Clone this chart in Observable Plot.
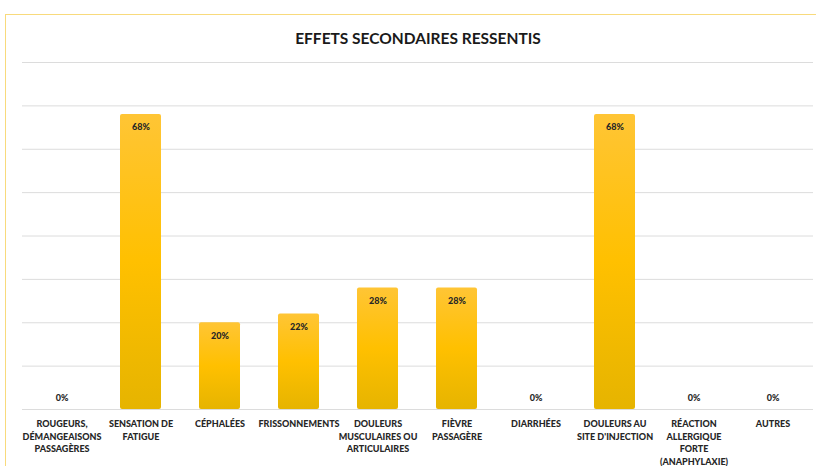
<!DOCTYPE html>
<html>
<head>
<meta charset="utf-8">
<script src="https://cdn.jsdelivr.net/npm/d3@7"></script>
<script src="https://cdn.jsdelivr.net/npm/@observablehq/plot@0.6"></script>
<style>
  html, body { margin: 0; padding: 0; background: #fff; width: 816px; height: 466px; overflow: hidden; }
  #frame { position: absolute; left: 5px; top: 14px; width: 830px; height: 470px;
           border-top: 1.5px solid #F8DA7C; border-left: 1.5px solid #F8DA7C; box-sizing: border-box; }
  #title { position: absolute; left: 0; top: 30px; width: 836px; text-align: center;
           font-family: Lato, "Open Sans", sans-serif; font-weight: 700; font-size: 15.5px; line-height: 16px; color: #1a1a1a; }
  #chart { position: absolute; left: 0; top: 50px; }
</style>
</head>
<body>
<div id="frame"></div>
<div id="title">EFFETS SECONDAIRES RESSENTIS</div>
<div id="chart"></div>
<script>
const categories = [
  "Rougeurs, démangeaisons passagères",
  "Sensation de fatigue",
  "Céphalées",
  "Frissonnements",
  "Douleurs musculaires ou articulaires",
  "Fièvre passagère",
  "Diarrhées",
  "Douleurs au site d'injection",
  "Réaction allergique forte (anaphylaxie)",
  "Autres"
];
const tickLabels = [
  "ROUGEURS,\nDÉMANGEAISONS\nPASSAGÈRES",
  "SENSATION DE\nFATIGUE",
  "CÉPHALÉES",
  "FRISSONNEMENTS",
  "DOULEURS\nMUSCULAIRES OU\nARTICULAIRES",
  "FIÈVRE\nPASSAGÈRE",
  "DIARRHÉES",
  "DOULEURS AU\nSITE D'INJECTION",
  "RÉACTION\nALLERGIQUE\nFORTE\n(ANAPHYLAXIE)",
  "AUTRES"
];
const values = [0, 0.68, 0.20, 0.22, 0.28, 0.28, 0, 0.68, 0, 0];
const gridTicks = [0, 0.1, 0.2, 0.3, 0.4, 0.5, 0.6, 0.7, 0.8];

const data = categories.map((c, i) => ({cat: c, label: tickLabels[i], value: values[i]}));
const fmt = d3.format(".0%");

const plot = Plot.plot({
  width: 816,
  height: 416,
  marginTop: 12,
  marginBottom: 57,
  marginLeft: 22,
  marginRight: 3,
  style: {fontFamily: "Lato, 'Open Sans', sans-serif", background: "transparent"},
  x: {domain: categories, paddingInner: 0.48, paddingOuter: 0.24, axis: null},
  y: {domain: [0, 0.8], axis: null},
  marks: [
    Plot.ruleY(gridTicks, {stroke: "#DCDCDC", strokeWidth: 1}),
    Plot.barY(data, {x: "cat", y: "value", fill: "#FFC000", rx: 2}),
    Plot.text(data.filter(d => d.value > 0), {x: "cat", y: "value", text: d => fmt(d.value), dy: 13,
      fontSize: 9, fontWeight: 900, fill: "#262626"}),
    Plot.text(data.filter(d => d.value === 0), {x: "cat", y: "value", text: d => fmt(d.value), dy: -11,
      fontSize: 9, fontWeight: 900, fill: "#262626"}),
    Plot.text(data, {x: "cat", y: 0, text: "label", dy: 9, lineAnchor: "top", lineHeight: 1.39,
      fontSize: 9, fontWeight: 900, fill: "#262626"})
  ]
});

// gradient fill for the bars
const svg = d3.select(plot);
const defs = svg.insert("defs", ":first-child");
const grad = defs.append("linearGradient").attr("id", "barGrad")
  .attr("x1", 0).attr("y1", 0).attr("x2", 0).attr("y2", 1);
grad.append("stop").attr("offset", "0%").attr("stop-color", "#FFC535");
grad.append("stop").attr("offset", "50%").attr("stop-color", "#FFC000");
grad.append("stop").attr("offset", "100%").attr("stop-color", "#E6B400");
svg.selectAll('g[aria-label="bar"] rect').attr("fill", "url(#barGrad)");

document.getElementById("chart").appendChild(plot);
</script>
</body>
</html>
